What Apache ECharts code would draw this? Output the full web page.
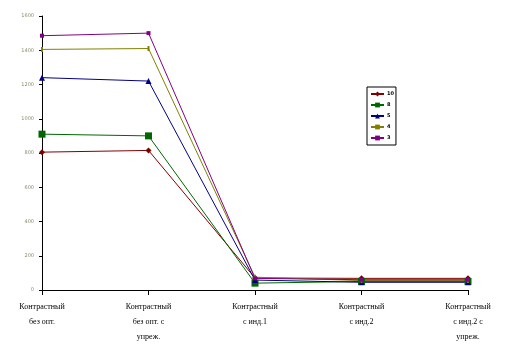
<!DOCTYPE html>
<html>
<head>
<meta charset="utf-8">
<script src="https://cdn.jsdelivr.net/npm/echarts@6/dist/echarts.min.js"></script>
<style>
html,body{margin:0;padding:0;background:#fff;}
#main{width:511px;height:354px;}
</style>
</head>
<body>
<div id="main"></div>
<script>
/* категории по оси X */
var categories = ['Контрастный\nбез опт.', 'Контрастный\nбез опт. с\nупреж.', 'Контрастный\nс инд.1', 'Контрастный\nс инд.2', 'Контрастный\nс инд.2 с\nупреж.'];
var seriesNames = ['10', '8', '5', '4', '3'];
var s10 = [805, 815, 70, 68, 68];
var s8 = [910, 900, 40, 50, 50];
var s5 = [1240, 1220, 58, 45, 45];
var s4 = [1405, 1410, 75, 55, 55];
var s3 = [1485, 1500, 68, 60, 60];
var yTicks = [0, 200, 400, 600, 800, 1000, 1200, 1400, 1600];

var colors = ['#800000', '#006600', '#000080', '#808000', '#800080'];
var symbols = ['diamond', 'rect', 'triangle', 'rect', 'rect'];
var symbolSizes = [6, 7, 6, [2, 5], 4];
var data = [s10, s8, s5, s4, s3];

var chart = echarts.init(document.getElementById('main'));
chart.setOption({
    animation: false,
    color: colors,
    grid: {left: 42, right: 43, top: 16, bottom: 64},
    legend: {
        orient: 'vertical',
        left: 367,
        top: 87,
        data: seriesNames,
        borderColor: '#000',
        borderWidth: 1,
        padding: [4, 2, 4, 3],
        itemWidth: 13,
        itemHeight: 6,
        itemGap: 5,
        textStyle: {fontSize: 5, fontWeight: 'bold', lineHeight: 6, color: '#000', fontFamily: 'DejaVu Sans', padding: [0, 0, 0, -2]}
    },
    xAxis: {
        type: 'category',
        boundaryGap: false,
        data: categories,
        axisLine: {lineStyle: {color: '#000', width: 1}},
        axisTick: {alignWithLabel: true, length: 5, inside: false},
        axisLabel: {
            color: '#000',
            fontSize: 8,
            fontFamily: 'Liberation Serif',
            lineHeight: 15,
            margin: 9,
            interval: 0
        }
    },
    yAxis: {
        type: 'value',
        min: yTicks[0],
        max: yTicks[yTicks.length - 1],
        interval: 200,
        axisLine: {show: true, lineStyle: {color: '#000', width: 1}},
        axisTick: {show: true, length: 3, lineStyle: {color: '#000'}},
        splitLine: {show: false},
        axisLabel: {
            color: '#8a8a6a', fontSize: 5, margin: 8, fontFamily: 'DejaVu Sans',
            formatter: function (v) { return String(v); }
        }
    },
    series: seriesNames.map(function (n, i) {
        return {
            name: n,
            type: 'line',
            data: data[i],
            symbol: symbols[i],
            symbolSize: symbolSizes[i],
            showAllSymbol: true,
            lineStyle: {width: 1, color: colors[i]},
            itemStyle: {color: colors[i]}
        };
    })
});
</script>
</body>
</html>
